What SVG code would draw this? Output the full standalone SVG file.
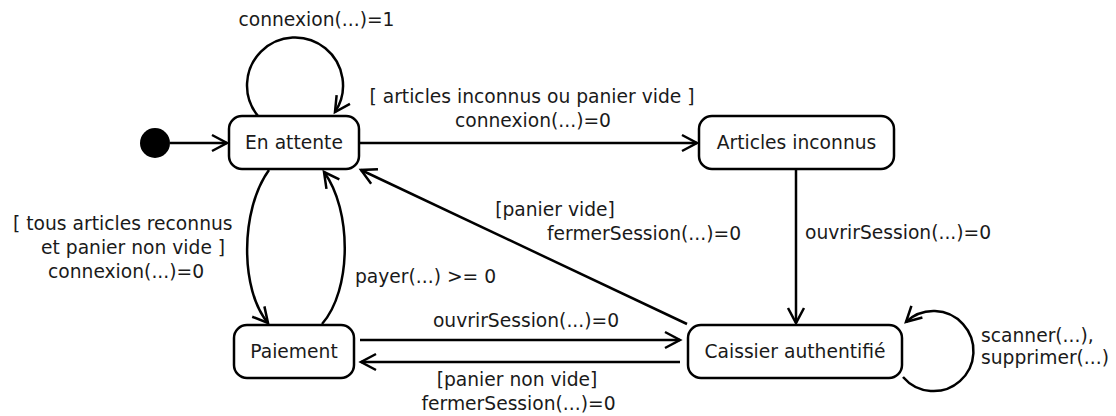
<svg xmlns="http://www.w3.org/2000/svg" width="1116" height="416" viewBox="0 0 1116 416">
  <style>
    .state rect { fill: #ffffff; stroke: #000000; stroke-width: 2.5; }
    .state text, .label { font-family: "DejaVu Sans", Verdana, sans-serif; font-size: 18.7px; fill: #1a1a1a; }
    .state text { text-anchor: middle; }
    .mid { text-anchor: middle; }
    .edge { fill: none; stroke: #000000; stroke-width: 2.5; marker-end: url(#open); }
  </style>
  <defs>
    <!-- open V arrowhead used by every transition -->
    <marker id="open" markerUnits="userSpaceOnUse" markerWidth="20" markerHeight="20" viewBox="-16 -10 20 20" refX="0" refY="0" orient="auto" overflow="visible">
      <path d="M-15,-8 L0,0 L-15,8" fill="none" stroke="#000000" stroke-width="2.5" stroke-linejoin="miter"/>
    </marker>
  </defs>
  <rect width="1116" height="416" fill="#ffffff"/>

  <!-- transitions -->
  <g id="connectors">
    <line class="edge" x1="170" y1="143" x2="227" y2="143"/>
    <path class="edge" d="M258,116 A48 48 0 1 1 335,112"/>
    <line class="edge" x1="360" y1="143" x2="697" y2="143"/>
    <line class="edge" x1="796" y1="170" x2="796" y2="323"/>
    <path class="edge" d="M903,377 A40 40 0 1 0 906,322"/>
    <path class="edge" d="M269,170 C240,210 240,290 268,323"/>
    <path class="edge" d="M322,324 C352,290 352,210 324,172"/>
    <line class="edge" x1="687" y1="324" x2="361" y2="170"/>
    <line class="edge" x1="360" y1="340" x2="680" y2="340"/>
    <line class="edge" x1="680" y1="362" x2="361" y2="362"/>
  </g>

  <!-- transition labels -->
  <g id="labels">
    <text class="label mid" x="316.5" y="26">connexion(...)=1</text>
    <text class="label mid" x="532" y="103">[ articles inconnus ou panier vide ]</text>
    <text class="label mid" x="533" y="127">connexion(...)=0</text>
    <text class="label" x="805" y="239">ouvrirSession(...)=0</text>
    <text class="label mid" x="555" y="216">[panier vide]</text>
    <text class="label mid" x="644" y="240">fermerSession(...)=0</text>
    <text class="label" x="355" y="283">payer(...) &gt;= 0</text>
    <text class="label mid" x="526" y="327">ouvrirSession(...)=0</text>
    <text class="label mid" x="517" y="386">[panier non vide]</text>
    <text class="label mid" x="518.5" y="410">fermerSession(...)=0</text>
    <text class="label" x="981" y="342">scanner(...),</text>
    <text class="label" x="981" y="364">supprimer(...)</text>
    <text class="label" x="13" y="230">[ tous articles reconnus</text>
    <text class="label" x="41" y="254">et panier non vide ]</text>
    <text class="label" x="48" y="278">connexion(...)=0</text>
  </g>

  <!-- states -->
  <g id="initial">
    <circle cx="155" cy="143" r="15" fill="#000000"/>
  </g>
  <g id="en-attente" class="state">
    <rect x="229" y="116" width="130" height="53" rx="13" ry="13"/>
    <text x="294" y="149">En attente</text>
  </g>
  <g id="articles-inconnus" class="state">
    <rect x="699" y="116" width="195" height="53" rx="13" ry="13"/>
    <text x="796.5" y="149">Articles inconnus</text>
  </g>
  <g id="paiement" class="state">
    <rect x="234" y="325" width="120" height="53" rx="13" ry="13"/>
    <text x="294" y="358">Paiement</text>
  </g>
  <g id="caissier-authentifie" class="state">
    <rect x="688" y="325" width="214" height="53" rx="13" ry="13"/>
    <text x="795" y="358">Caissier authentifié</text>
  </g>
</svg>
